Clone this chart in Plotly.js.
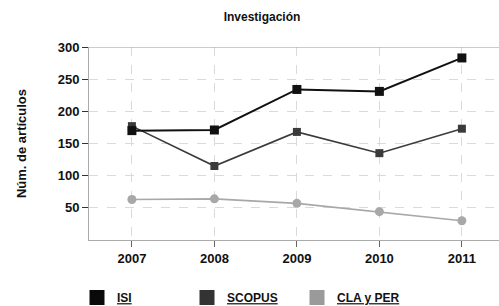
<!DOCTYPE html>
<html>
<head>
<meta charset="utf-8">
<script src="https://cdn.plot.ly/plotly-3.0.1.min.js"></script>
<style>html,body{margin:0;padding:0;background:#fff;}#chart{width:499px;height:306px;}</style>
</head>
<body>
<div id="chart"></div>
<script>
var years = ['2007', '2008', '2009', '2010', '2011'];
var isi = [170, 171, 234, 231, 283];
var scopus = [177, 115, 168, 135, 173];
var claPer = [63, 64, 57, 44, 30];
var seriesNames = ['ISI', 'SCOPUS', 'CLA y PER'];
var yTicks = [50, 100, 150, 200, 250, 300];

var lineColors = ['#111111', '#3a3a3a', '#a8a8a8'];
var swatchColors = ['#0a0a0a', '#333333', '#9a9a9a'];
var font = 'Liberation Sans, Arial, sans-serif';

var traces = [
  {x: years, y: scopus, type: 'scatter', mode: 'lines+markers', showlegend: false,
   line: {color: lineColors[1], width: 1.6}, marker: {symbol: 'square', size: 8, color: lineColors[1]}},
  {x: years, y: isi, type: 'scatter', mode: 'lines+markers', showlegend: false,
   line: {color: lineColors[0], width: 2}, marker: {symbol: 'square', size: 9, color: lineColors[0]}},
  {x: years, y: claPer, type: 'scatter', mode: 'lines+markers', showlegend: false,
   line: {color: lineColors[2], width: 1.6}, marker: {symbol: 'circle', size: 9, color: lineColors[2]}}
];
seriesNames.forEach(function (n, i) {
  traces.push({x: [null], y: [null], type: 'bar', name: n, showlegend: true,
    marker: {color: swatchColors[i], line: {color: swatchColors[i], width: 3}}});
});

var layout = {
  width: 499, height: 306,
  margin: {l: 89, r: 0, t: 46.5, b: 66, autoexpand: false},
  paper_bgcolor: '#fff', plot_bgcolor: '#fff',
  font: {family: font, size: 13, color: '#111'},
  title: {text: '<b>Investigación</b>', x: 0.525, xanchor: 'center', y: 0.944, yanchor: 'middle',
          font: {family: font, size: 12, color: '#111'}},
  xaxis: {type: 'category', range: [-0.52, 4.45], showgrid: true, gridcolor: '#dadada', griddash: 'dash', gridwidth: 1,
          showline: true, linecolor: '#aaaaaa', linewidth: 1, ticks: 'outside', ticklen: 6, tickcolor: '#666',
          automargin: false,
          tickfont: {family: font, size: 13, weight: 'bold', color: '#111'}, fixedrange: true, zeroline: false},
  yaxis: {range: [0, 300], tickvals: yTicks, showgrid: true, gridcolor: '#dadada', griddash: 'dash', gridwidth: 1,
          showline: true, linecolor: '#aaaaaa', linewidth: 1, ticks: 'outside', ticklen: 6, tickcolor: '#333',
          automargin: false,
          tickfont: {family: font, size: 13, weight: 'bold', color: '#111'}, zeroline: false,
          title: {text: 'Núm. de artículos', standoff: 28, font: {family: font, size: 13, weight: 'bold', color: '#111'}}},
  shapes: [{type: 'line', xref: 'paper', yref: 'y', x0: 0, x1: 1, y0: 300, y1: 300, line: {color: '#999', width: 1.2}}],
  legend: {orientation: 'h', xref: 'container', yref: 'container', x: 77 / 499, xanchor: 'left', y: 1 - 283 / 306, yanchor: 'top',
           font: {family: font, size: 12, weight: 'bold', color: '#111', lineposition: 'under'},
           entrywidth: 65, traceorder: 'normal', bgcolor: 'rgba(0,0,0,0)', borderwidth: 0},
  showlegend: true
};

Plotly.newPlot('chart', traces, layout, {staticPlot: true, displayModeBar: false});
</script>
</body>
</html>
